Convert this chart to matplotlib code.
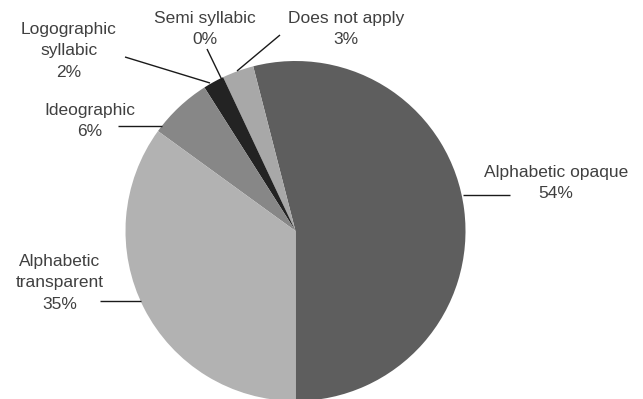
import numpy as np
import matplotlib
matplotlib.use("Agg")
import matplotlib.pyplot as plt

# Writing-system categories and their shares (%)
categories = ["Alphabetic opaque", "Does not apply", "Semi syllabic",
              "Logographic\nsyllabic", "Ideographic", "Alphabetic\ntransparent"]
shares = [54, 3, 0, 2, 6, 35]
colors = ["#5e5e5e", "#a8a8a8", "#d0d0d0", "#232323", "#878787", "#b2b2b2"]

# Layout (pixel space, y downward)
W, H = 643, 399
center = (295.5, 231)
radius = 170
label_pos = [(556, 183), (346, 29), (205, 29), (69, 51), (90, 121), (60, 283)]
leader_lines = [((463, 195), (510, 195)),
                ((237, 71), (280, 35)),
                ((222, 80), (207, 49)),
                ((210, 83), (125, 57)),
                ((162, 126), (118, 126)),
                ((141, 301), (100, 301))]

plt.rcParams["font.family"] = ["Liberation Sans", "DejaVu Sans"]

fig = plt.figure(figsize=(W / 100, H / 100), dpi=100)
ax = fig.add_axes([0, 0, 1, 1])

# y axis runs downward, so angles are mirrored: start at the bottom and go clockwise in data terms
ax.pie(shares, colors=colors, startangle=90, counterclock=False,
       center=center, radius=radius, frame=True,
       wedgeprops=dict(linewidth=0, antialiased=True))
ax.set_xlim(0, W)
ax.set_ylim(H, 0)
ax.set_aspect("equal")
ax.axis("off")

text_color = "#404040"
for name, val, (tx, ty), (p0, p1) in zip(categories, shares, label_pos, leader_lines):
    ax.plot([p0[0], p1[0]], [p0[1], p1[1]], color="#1a1a1a", lw=1.0,
            solid_capstyle="butt")
    ax.text(tx, ty, f"{name}\n{val}%", ha="center", va="center",
            fontsize=12.5, color=text_color, linespacing=1.55,
            multialignment="center")

fig.savefig("out.png", dpi=100)
